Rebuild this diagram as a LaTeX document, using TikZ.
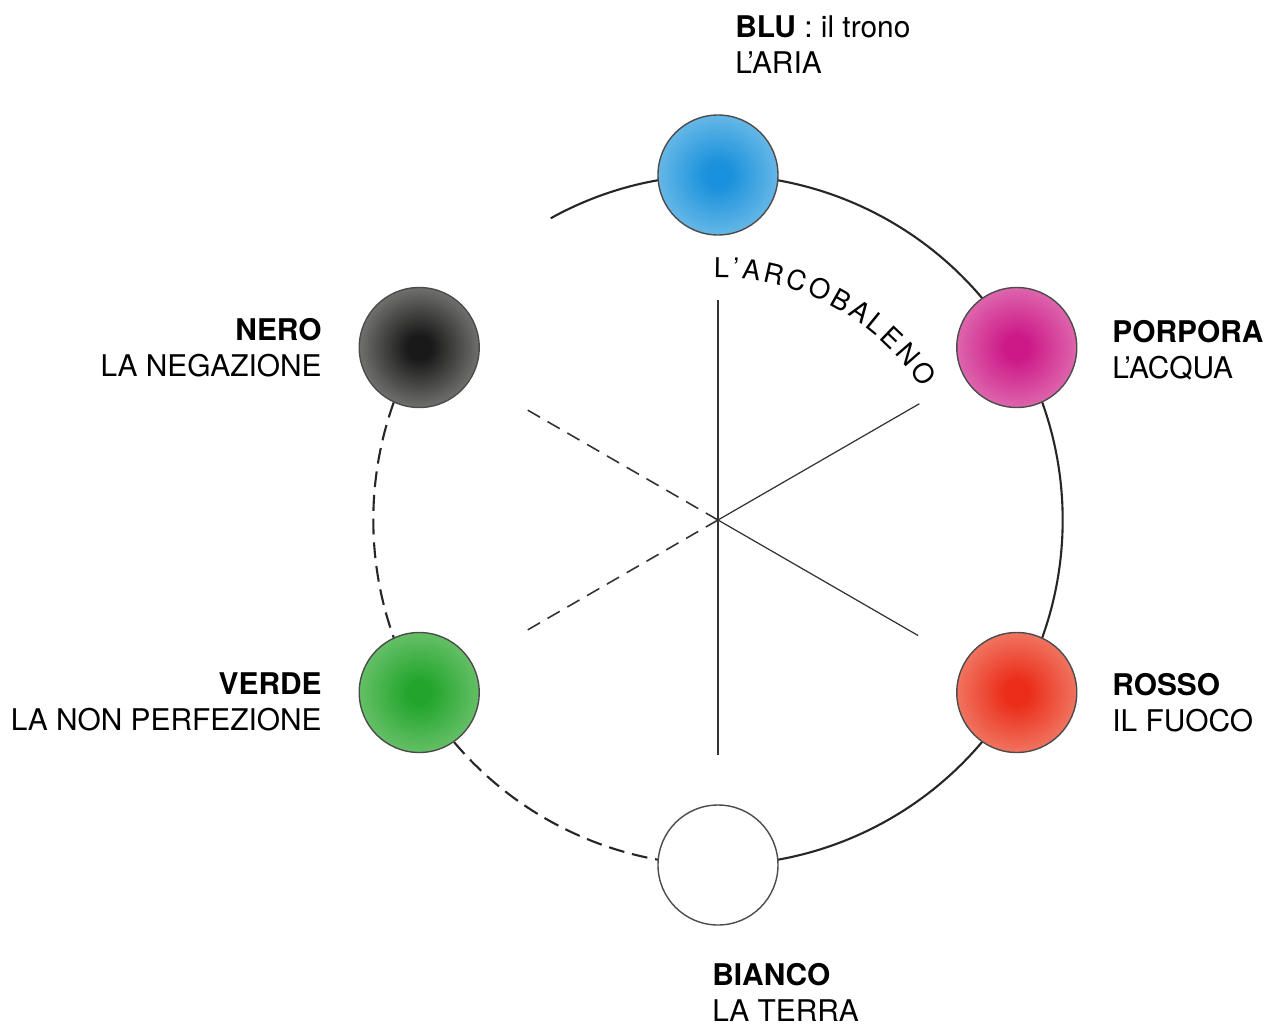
\documentclass[tikz,border=0pt]{standalone}
\usepackage{fontspec}
\setmainfont{TeX Gyre Heros}
\usetikzlibrary{decorations.text,backgrounds}

\definecolor{blucore}{RGB}{25,145,220}
\definecolor{bluedge}{RGB}{205,235,245}
\definecolor{nerocore}{RGB}{25,25,25}
\definecolor{neroedge}{RGB}{230,230,225}
\definecolor{porporacore}{RGB}{205,25,135}
\definecolor{porporaedge}{RGB}{244,205,225}
\definecolor{rossocore}{RGB}{235,45,25}
\definecolor{rossoedge}{RGB}{247,212,192}
\definecolor{verdecore}{RGB}{35,165,45}
\definecolor{verdeedge}{RGB}{190,228,180}

\colorlet{dotin}{black}
\colorlet{dotmid}{gray}
\colorlet{dotout}{white}
\pgfdeclareradialshading[dotin,dotmid,dotout]{dotshade}{\pgfpointorigin}%
  {color(0bp)=(dotin); color(5bp)=(dotin); color(24bp)=(dotmid); color(50bp)=(dotout)}

\tikzset{
  colordot/.style 2 args={circle, draw=black!70, line width=0.8pt,
    minimum size=2.4cm, inner sep=0pt,
    /utils/exec={\colorlet{dotin}{#1}\colorlet{dotmid}{#1!60!#2}\colorlet{dotout}{#2}},
    shade, shading=dotshade},
  legend/.style={font=\fontsize{17}{20.5}\selectfont, inner sep=0pt},
  ringline/.style={line width=1.2pt, black!85, bend left=30, looseness=0.91},
  ringdash/.style={ringline, dash pattern=on 9pt off 4.5pt},
  spoke/.style={line width=0.7pt, black!80},
  spokedash/.style={spoke, line width=0.9pt, dash pattern=on 8pt off 5pt},
}

\begin{document}
\begin{tikzpicture}
\useasboundingbox (-14.36,-10.2) rectangle (10.98,10.4);

\coordinate (c) at (0,0);

% the six colours on the ring
\node[colordot={blucore}{bluedge}] (blu) at (90:6.9) {};
\node[colordot={porporacore}{porporaedge}] (porpora) at (30:6.9) {};
\node[colordot={rossocore}{rossoedge}] (rosso) at (-30:6.9) {};
\node[circle, draw=black!70, line width=0.8pt, fill=white,
  minimum size=2.4cm, inner sep=0pt] (bianco) at (-90:6.9) {};
\node[colordot={verdecore}{verdeedge}] (verde) at (210:6.9) {};
\node[colordot={nerocore}{neroedge}] (nero) at (150:6.9) {};

% labels
\node[legend, anchor=west, align=left] (blutxt) at (0.34,9.5)
  {\textbf{BLU} : il trono\\L'ARIA};
\node[legend, anchor=west, align=left] (porporatxt) at (7.88,3.4)
  {\textbf{PORPORA}\\L'ACQUA};
\node[legend, anchor=west, align=left] (rossotxt) at (7.88,-3.66)
  {\textbf{ROSSO}\\IL FUOCO};
\node[legend, anchor=west, align=left] (biancotxt) at (-0.12,-9.45)
  {\textbf{BIANCO}\\LA TERRA};
\node[legend, anchor=east, align=right] (nerotxt) at (-7.92,3.44)
  {\textbf{NERO}\\LA NEGAZIONE};
\node[legend, anchor=east, align=right] (verdetxt) at (-7.92,-3.63)
  {\textbf{VERDE}\\LA NON PERFEZIONE};

\begin{scope}[on background layer]
  \coordinate (gap) at (119:6.9);
  \draw[ringline, bend left=14.5, looseness=0.87] (gap) to (blu.center);
  \draw[ringline] (blu.center) to (porpora.center);
  \draw[ringline] (porpora.center) to (rosso.center);
  \draw[ringline] (rosso.center) to (bianco.center);
  \draw[ringdash] (bianco.center) to (verde.center);
  \draw[ringdash] (verde.center) to (nero.center);
\end{scope}

% spokes
\foreach \a/\r/\s in {90/4.4/spoke, 30/4.65/spoke, -30/4.62/spoke,
    -90/4.7/spoke, 150/4.53/spokedash, 210/4.4/spokedash} {
  \coordinate (end\a) at (\a:\r);
  \draw[\s] (c) -- (end\a);
}

\path[decorate, decoration={text along path, text align=fit to path,
    text={|\fontsize{15.5}{15.5}\selectfont|L'ARCOBALENO}}]
  (91:4.85) arc[start angle=91, end angle=33, radius=4.85];
\end{tikzpicture}
\end{document}
